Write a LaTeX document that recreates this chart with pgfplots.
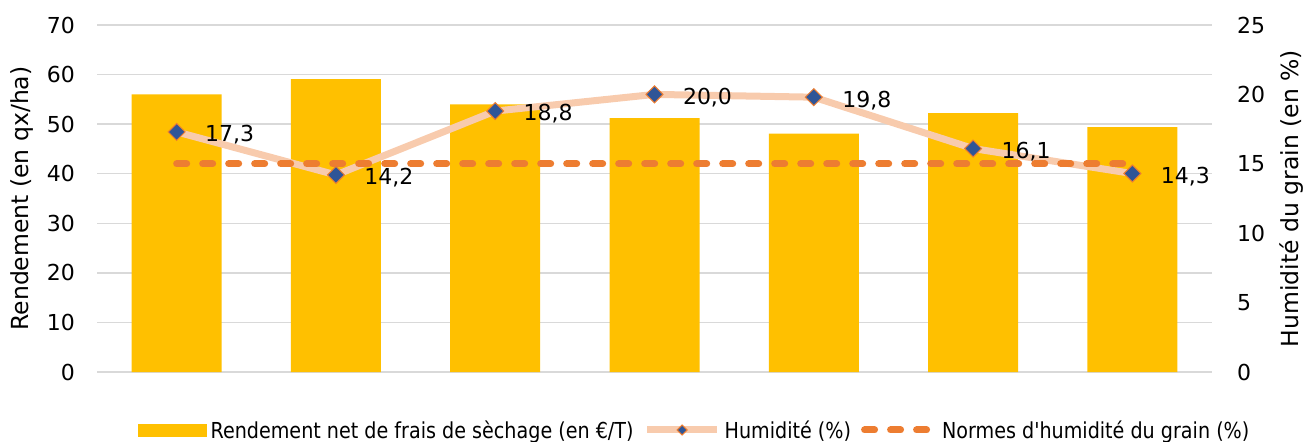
\documentclass[border=0pt]{standalone}
\usepackage{fontspec}
\setmainfont{DejaVu Sans}
\newfontfamily\legendfont[FakeStretch=0.87]{DejaVu Sans}
\usepackage{pgfplots}
\pgfplotsset{compat=1.18}
\definecolor{barc}{HTML}{FFC000}
\definecolor{humline}{HTML}{F8CBAD}
\definecolor{mk}{HTML}{2F5597}
\definecolor{orng}{HTML}{ED7D31}
\definecolor{gridc}{HTML}{D9D9D9}
\pgfplotsset{
  humleg/.style={legend image code/.code={\draw[mark repeat=2,mark phase=2,##1,mark size=3.5pt] plot coordinates {(0pt,0pt) (35pt,0pt) (70pt,0pt)};}},
  dashleg/.style={legend image code/.code={\draw[##1] (0pt,0pt) -- (70pt,0pt);}},
  barleg/.style={legend image code/.code={\fill[barc] (0pt,-6pt) rectangle (68pt,6pt);}},
  myax/.style={width=1115pt,height=347pt,scale only axis,
    xmin=-0.5,xmax=6.5,xtick=\empty,
    axis line style={draw=none},major tick length=0pt,
    /pgf/number format/assume math mode=true,
    yticklabel style={font=\fontsize{22}{26}\selectfont,inner xsep=0pt},
  }
}
\begin{document}
\begin{tikzpicture}
\begin{axis}[myax,name=ax1,
  axis y line*=left, axis x line*=bottom,
  ymin=0,ymax=70,ytick={0,10,...,70},
  ymajorgrids, grid style={gridc,line width=1.5pt},
  yticklabel style={anchor=east,xshift=-22pt},
  ybar, bar width=0.565,
  ylabel={Rendement (en qx/ha)},
  every axis y label/.style={at={(axis description cs:-0.0673,0.5)},rotate=90,anchor=center,font=\fontsize{23.5}{28}\selectfont},
]
\addplot[fill=barc,draw=none] coordinates {(0,56.0) (1,59.1) (2,54.0) (3,51.2) (4,48.1) (5,52.2) (6,49.4)};
\end{axis}
\begin{axis}[myax,
  axis y line*=right, axis x line=none,
  ymin=0,ymax=25,ytick={0,5,...,25},
  yticklabel style={anchor=west,xshift=25pt},
  ylabel={Humidité du grain (en \%)},
  every axis y label/.style={at={(axis description cs:1.0717,0.5)},rotate=90,anchor=center,font=\fontsize{23.5}{28}\selectfont},
  legend style={at={(0.537,-0.167)},anchor=center,legend columns=3,draw=none,fill=none,
    font=\legendfont\fontsize{22}{26}\selectfont,
    /tikz/every even column/.append style={column sep=6pt},
    nodes={inner xsep=4pt}},
]
\addlegendimage{barleg}
\addlegendentry{Rendement net de frais de sèchage (en €/T)}
\addplot[humline,line width=7pt,mark=square*,mark size=6pt,
  mark options={rotate=45,fill=mk,draw=orng,line width=1pt},
  nodes near coords={\pgfmathprintnumber[use comma,fixed,fixed zerofill,precision=1,assume math mode=true]{\pgfplotspointmeta}},
  nodes near coords style={anchor=west,xshift=28pt,yshift=-3pt,inner sep=0pt,text=black,font=\fontsize{22}{26}\selectfont},
  humleg
] coordinates {(0,17.3) (1,14.2) (2,18.8) (3,20.0) (4,19.8) (5,16.1) (6,14.3)};
\addlegendentry{Humidité (\%)}
\addplot[orng,line width=7pt,line cap=round,dash pattern=on 10pt off 16pt,dashleg
] coordinates {(0,15) (1,15) (2,15) (3,15) (4,15) (5,15) (6,15)};
\addlegendentry{Normes d'humidité du grain (\%)}
\end{axis}
\pgfresetboundingbox
\path ([xshift=-97pt,yshift=-69pt]ax1.south west) rectangle ([xshift=93pt,yshift=25pt]ax1.north east);
\end{tikzpicture}
\end{document}
